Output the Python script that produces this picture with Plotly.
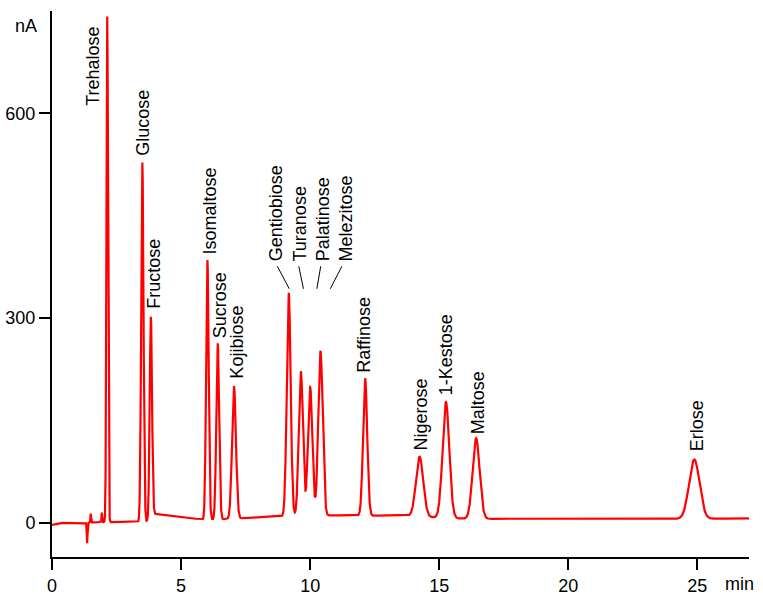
import numpy as np
import plotly.graph_objects as go

# ---- data ----
peak_names = ["Trehalose", "Glucose", "Fructose", "Isomaltose", "Sucrose", "Kojibiose",
              "Gentiobiose", "Turanose", "Palatinose", "Melezitose", "Raffinose",
              "Nigerose", "1-Kestose", "Maltose", "Erlose"]
peak_times = [2.14, 3.50, 3.83, 6.02, 6.42, 7.05, 9.17, 9.64, 10.00, 10.40, 12.13,
              14.24, 15.26, 16.43, 24.88]          # min
peak_apex = [742, 528, 302, 385, 263, 200, 337, 222, 199, 252, 212,
             97, 177, 124, 93]                      # nA (apex, incl. baseline)
peak_sigma = [0.03, 0.045, 0.045, 0.05, 0.055, 0.075, 0.075, 0.08, 0.085, 0.085, 0.08,
              0.14, 0.13, 0.135, 0.2]               # min

# injection artefacts
artefact_times = [1.36, 1.50, 1.93]
artefact_heights = [-30, 13, 14]
artefact_sigma = [0.015, 0.012, 0.012]

# baseline drift
base_t = [0.0, 0.3, 1.3, 1.6, 3.3, 3.75, 3.95, 4.5, 5.85, 6.5, 7.5, 8.5, 9.5, 11.0,
          12.5, 13.5, 14.8, 16.0, 17.5, 20.0, 23.0, 27.0]
base_v = [-3, 0, 0, 1, 1.5, 2, 13.5, 10, 5, 5, 7, 9, 10, 11,
          10.5, 11, 8, 6, 6, 5, 5.5, 6.5]

# label layout (time, nA of label bottom)
label_t = [1.59, 3.51, 3.94, 6.085, 6.51, 7.15, 8.68, 9.60, 10.50, 11.40, 12.10,
           14.28, 15.27, 16.51, 24.99]
label_v = [609, 536, 312, 391, 269, 210, 382, 382, 382, 382, 219, 104, 185, 128, 103]

# leader lines for the crowded group: (t0, v0, t1, v1)
leaders = [(8.73, 376, 9.19, 343), (9.56, 376, 9.74, 343),
           (10.41, 376, 10.26, 343), (11.23, 376, 10.78, 343)]

x_ticks = [0, 5, 10, 15, 20, 25]
y_ticks = [0, 300, 600]

# ---- build signal ----
t = np.linspace(0, 27, 13501)
base = np.interp(t, base_t, base_v)
sig = base.copy()
for tc, h, s in zip(peak_times, peak_apex, peak_sigma):
    amp = h - np.interp(tc, base_t, base_v)
    sig += amp * np.exp(-0.5 * ((t - tc) / s) ** 2)
for tc, h, s in zip(artefact_times, artefact_heights, artefact_sigma):
    sig += h * np.exp(-0.5 * ((t - tc) / s) ** 2)

FONT = "Arial, Liberation Sans, sans-serif"

fig = go.Figure()
fig.add_trace(go.Scatter(x=t, y=sig, mode="lines",
                         line=dict(color="#ff0000", width=2.2),
                         hoverinfo="skip", showlegend=False))

annotations = []
for name, lt, lv in zip(peak_names, label_t, label_v):
    annotations.append(dict(x=lt, y=lv, xref="x", yref="y", text=name, textangle=-90,
                            showarrow=False, xanchor="center", yanchor="bottom",
                            borderpad=0, font=dict(family=FONT, size=18, color="black")))
annotations.append(dict(x=0, y=728, xref="paper", yref="y", text="nA", xshift=-26,
                        showarrow=False, xanchor="center", yanchor="middle",
                        font=dict(family=FONT, size=18, color="black")))
annotations.append(dict(x=26.63, y=0, xref="x", yref="paper", text="min", yshift=-27,
                        showarrow=False, xanchor="center", yanchor="middle",
                        font=dict(family=FONT, size=18, color="black")))

shapes = [dict(type="line", xref="x", yref="y", x0=a, y0=b, x1=c, y1=d,
               line=dict(color="black", width=1)) for a, b, c, d in leaders]

axis_common = dict(showline=True, linecolor="black", linewidth=2, ticks="outside",
                   ticklen=11, tickwidth=2, tickcolor="black", showgrid=False,
                   zeroline=False, automargin=False,
                   tickfont=dict(family=FONT, size=18, color="black"))

fig.update_layout(
    width=763, height=603,
    margin=dict(l=52, r=14, t=11, b=46),
    plot_bgcolor="white", paper_bgcolor="white",
    xaxis=dict(range=[0, 27], tickvals=x_ticks, **axis_common),
    yaxis=dict(range=[-50, 750], tickvals=y_ticks, **axis_common),
    annotations=annotations, shapes=shapes,
)

fig.write_html("out.html",
               config={"displayModeBar": False},
               post_script="document.body.style.margin='0px';"
                           "document.body.style.overflow='hidden';")
